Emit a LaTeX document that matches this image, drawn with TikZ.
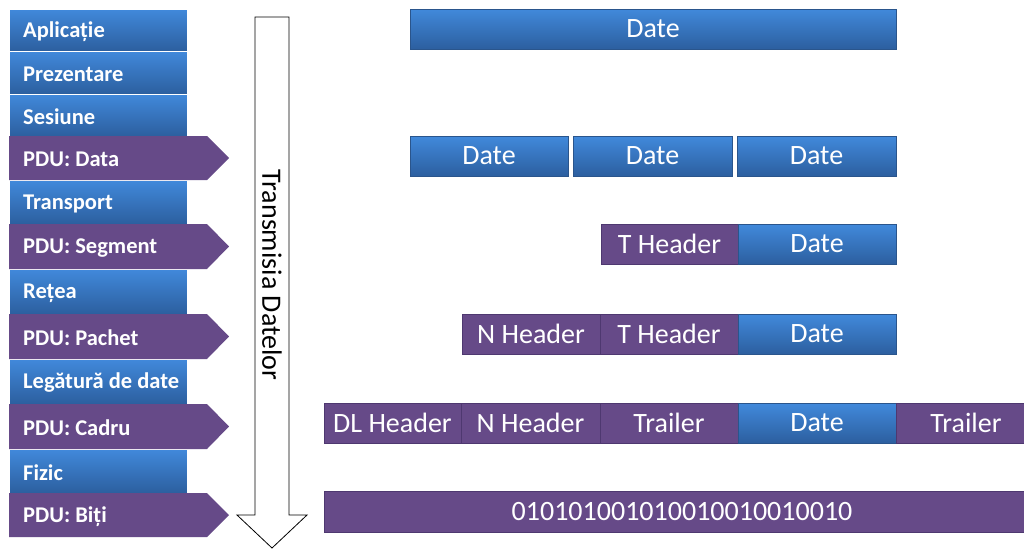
\documentclass[tikz,border=0pt]{standalone}
\usepackage{fontspec}
\setmainfont{Carlito}
\begin{document}
\begin{tikzpicture}[x=1pt,y=-1pt,
  layerbox/.style={anchor=north west, minimum width=178pt, inner sep=0pt, outer sep=0pt,
    top color=blueTop, bottom color=blueBot, draw=white, line width=0.6pt},
  labeltext/.style={anchor=west, inner sep=0pt, text=white, font=\fontsize{22.5}{22.5}\selectfont\bfseries},
  datablk/.style={anchor=north west, inner sep=0pt, outer sep=0pt, minimum height=40pt,
    top color=blueTop, bottom color=blueBot, draw=blueEdge, line width=0.8pt,
    text=white, font=\fontsize{28}{28}\selectfont},
  hdrblk/.style={anchor=north west, inner sep=0pt, outer sep=0pt, minimum height=40pt,
    fill=pduPurple, draw=pduEdge, line width=0.8pt,
    text=white, font=\fontsize{28}{28}\selectfont},
]
\definecolor{blueTop}{HTML}{4189DB}
\definecolor{blueBot}{HTML}{2C5F9F}
\definecolor{blueEdge}{HTML}{2A558C}
\definecolor{pduPurple}{HTML}{664A88}
\definecolor{pduEdge}{HTML}{4E3870}

\useasboundingbox (0,0) rectangle (1024,549);
\fill[white] (0,0) rectangle (1024,549);

% ---- OSI layers (blue) ----
\newcommand{\layer}[4]{%
  \node[layerbox, minimum height={#2-#1}] (#3) at (9,#1) {};
  \node[labeltext] (#3t) at (23,{(#1+#2)/2+1.5}) {#4};}
\layer{9}{51}{app}{Aplicație}
\layer{51}{94}{pres}{Prezentare}
\layer{94}{136}{ses}{Sesiune}
\layer{180}{224}{tra}{Transport}
\layer{269}{314}{net}{Rețea}
\layer{359}{404}{dl}{Legătură de date}
\layer{449}{493}{phy}{Fizic}

% ---- PDU tags (purple pentagons) ----
\newcommand{\pdutag}[4]{%
  \fill[pduPurple] (9,#1) -- (207,#1) -- (229,{(#1+#2)/2}) -- (207,#2) -- (9,#2) -- cycle;
  \node[labeltext] (#3) at (23,{(#1+#2)/2+1.5}) {#4};}
\pdutag{136}{180}{pdudata}{PDU: Data}
\pdutag{224}{269}{pduseg}{PDU: Segment}
\pdutag{314}{359}{pdupkt}{PDU: Pachet}
\pdutag{404}{449}{pducadru}{PDU: Cadru}
\pdutag{493}{537}{pdubiti}{PDU: Biți}

% ---- transmission arrow ----
\draw[black, line width=0.8pt, fill=white]
  (255,17) -- (289,17) -- (289,515) -- (307,515) -- (272,548)
  -- (237,515) -- (255,515) -- cycle;
\node[rotate=-90, inner sep=0pt, font=\fontsize{28}{28}\selectfont] (flow) at (272,275) {Transmisia Datelor};

% ---- encapsulation rows ----
\node[datablk, minimum width=486pt] (d1) at (410,9) {Date};

\node[datablk, minimum width=158pt] (d2a) at (410,136) {Date};
\node[datablk, minimum width=159pt] (d2b) at (573,136) {Date};
\node[datablk, minimum width=159pt] (d2c) at (737,136) {Date};

\node[hdrblk,  minimum width=137pt] (t3) at (601,224) {T Header};
\node[datablk, minimum width=158pt] (d3) at (738,224) {Date};

\node[hdrblk,  minimum width=138pt] (n4) at (462,314) {N Header};
\node[hdrblk,  minimum width=138pt] (t4) at (600,314) {T Header};
\node[datablk, minimum width=158pt] (d4) at (738,314) {Date};

\node[hdrblk,  minimum width=137pt] (dl5) at (324,403) {DL Header};
\node[hdrblk,  minimum width=139pt] (n5)  at (461,403) {N Header};
\node[hdrblk,  minimum width=138pt] (tr5) at (600,403) {Trailer};
\node[datablk, minimum width=158pt] (d5)  at (738,403) {Date};
\node[hdrblk,  minimum width=140pt] (tr5b) at (896,403) {Trailer};

\node[hdrblk, minimum width=710pt, minimum height=41pt] (bits) at (324,491) {};
\node[text=white, inner sep=0pt, font=\fontsize{28}{28}\selectfont] (bitstr) at (682,511.5) {010101001010010010010010};
\end{tikzpicture}
\end{document}
